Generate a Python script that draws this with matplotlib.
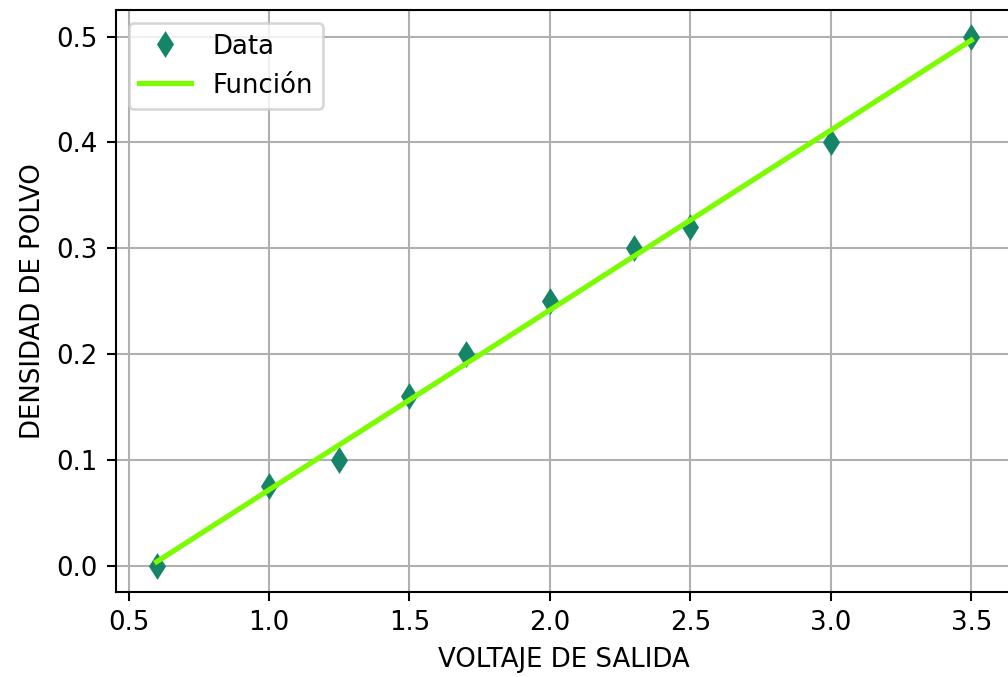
import numpy as np
import matplotlib
matplotlib.use('Agg')
import matplotlib.pyplot as plt

# data
voltaje = np.array([0.6, 1.0, 1.25, 1.5, 1.7, 2.0, 2.3, 2.5, 3.0, 3.5])
densidad = np.array([0.0, 0.075, 0.1, 0.16, 0.2, 0.25, 0.3, 0.32, 0.4, 0.5])

# linear fit ("Función")
m, b = np.polyfit(voltaje, densidad, 1)
ajuste = m * voltaje + b

dpi = 187.2
fig = plt.figure(figsize=(1008 / dpi, 677 / dpi), dpi=dpi)
ax = fig.add_axes([0.115, 0.1256, 0.889, 0.8594])

ax.plot(voltaje, densidad, 'd', color='#168567', label='Data')
ax.plot(voltaje, ajuste, color='#7CFC00', lw=2, label='Función')

ax.set_xlabel('VOLTAJE DE SALIDA')
ax.set_ylabel('DENSIDAD DE POLVO')
ax.grid(True)
ax.legend(loc='upper left')

fig.savefig('out.png', dpi=dpi)
